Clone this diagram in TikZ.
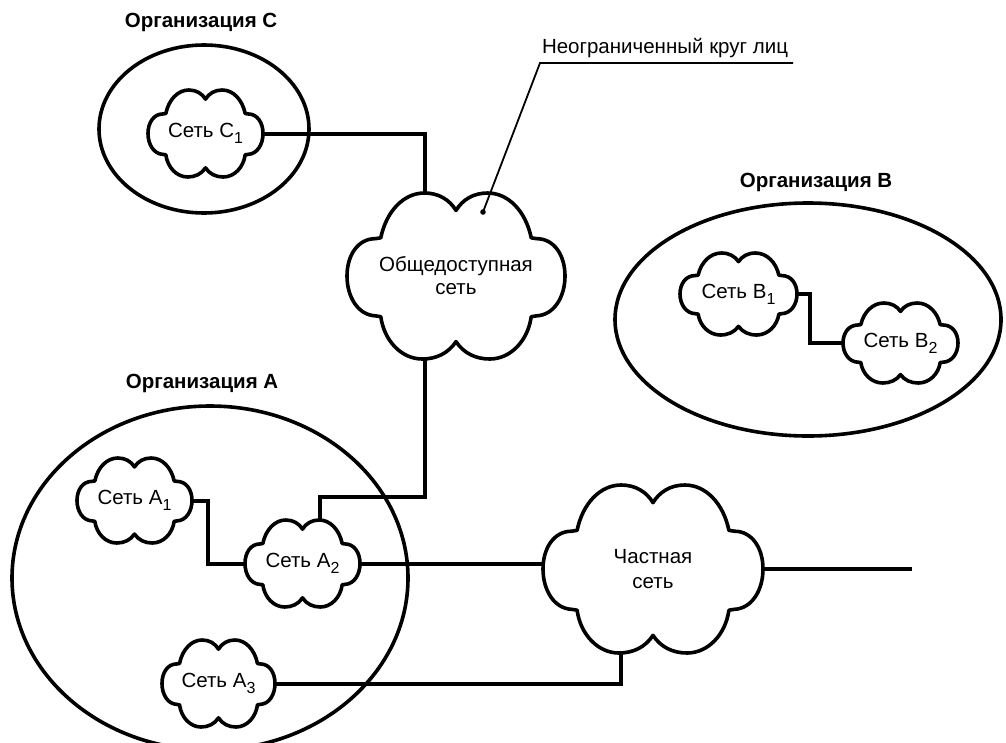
\documentclass[tikz,border=0pt]{standalone}
\usepackage{fontspec}
\setmainfont{Liberation Sans}
\usetikzlibrary{calc,shapes.geometric}
\newcommand\sbs[1]{\raisebox{-6pt}{\fontsize{16}{16}\selectfont #1}}
\newcommand\cloudoutline{%
  \draw[cloudline] (0,0.79) .. controls (0.07,0.93) and (0.18,1) .. (0.31,1)
   .. controls (0.50,1) and (0.66,0.78) .. (0.69,0.49)
   -- (0.74,0.48)
   .. controls (0.90,0.47) and (1,0.25) .. (1,0)
   .. controls (1,-0.25) and (0.90,-0.45) .. (0.74,-0.45)
   -- (0.69,-0.46)
   .. controls (0.64,-0.78) and (0.48,-1) .. (0.29,-1)
   .. controls (0.16,-1) and (0.06,-0.92) .. (0,-0.79)
   .. controls (-0.06,-0.92) and (-0.16,-1) .. (-0.29,-1)
   .. controls (-0.48,-1) and (-0.64,-0.78) .. (-0.69,-0.46)
   -- (-0.74,-0.45)
   .. controls (-0.90,-0.45) and (-1,-0.25) .. (-1,0)
   .. controls (-1,0.25) and (-0.90,0.47) .. (-0.74,0.48)
   -- (-0.69,0.49)
   .. controls (-0.66,0.78) and (-0.50,1) .. (-0.31,1)
   .. controls (-0.18,1) and (-0.07,0.93) .. (0,0.79) -- cycle;}
\newcommand\netcloud[6]{%
  \begin{scope}[shift={(#2,#3)},xscale=#4,yscale=#5]\cloudoutline\end{scope}
  \node[cloudtext,minimum width={2*#4pt},minimum height={2*#5pt}] (#1) at (#2,#3) {#6};}
\begin{document}
\begin{tikzpicture}[x=1pt,y=-1pt,
  cloudline/.style={line width=3.6pt,line join=round,fill=white},
  cloudtext/.style={rectangle,draw=none,inner sep=0pt,align=center,
    font=\fontsize{20.5}{24}\selectfont},
  orgellipse/.style={ellipse,draw,line width=3.6pt,inner sep=0pt},
  orglabel/.style={font=\fontsize{20.5}{24}\selectfont\bfseries,inner sep=0pt},
  conn/.style={line width=4pt,line cap=butt,line join=miter},
  leader/.style={line width=1.8pt}]
\useasboundingbox (0,0) rectangle (1006,742);
\clip (0,0) rectangle (1006,742);
\fill[white] (0,0) rectangle (1006,742);
% organisations
\node[orgellipse,minimum width=210pt,minimum height=168pt] (orgC) at (204,129) {};
\node[orgellipse,minimum width=386pt,minimum height=233pt] (orgB) at (808,319.5) {};
\node[orgellipse,minimum width=396pt,minimum height=344pt] (orgA) at (210,578) {};
\node[orglabel] (labC) at (201,22) {Организация С};
\node[orglabel] (labB) at (816,182) {Организация В};
\node[orglabel] (labA) at (202,383) {Организация А};
% clouds
\netcloud{c1}{205.5}{133.5}{57.5}{43.5}{Сеть С\sbs{1}}
\netcloud{pub}{456}{276}{109}{83}{Общедоступная\\[-1pt]сеть}
\netcloud{a1}{134.5}{500.5}{57.5}{42.5}{Сеть А\sbs{1}}
\netcloud{a2}{302.5}{563.5}{57.5}{43.5}{Сеть А\sbs{2}}
\netcloud{a3}{218.5}{683.5}{56.5}{43.5}{Сеть А\sbs{3}}
\netcloud{b1}{738.5}{294}{58.5}{41}{Сеть В\sbs{1}}
\netcloud{b2}{900.5}{343}{57.5}{40}{Сеть В\sbs{2}}
\netcloud{priv}{653}{569}{110}{84}{Частная\\[1pt]сеть}
% connectors
\draw[conn] (c1.east) -| ($(pub.north)!0.28!(pub.north west)$);
\draw[conn] ($(pub.south)!0.28!(pub.south west)$) |- ($($(a2.north)!0.31!(a2.north east)$)+(0,-23)$) -- ($(a2.north)!0.31!(a2.north east)$);
\draw[conn] (a1.east) -- ++(16,0) |- (a2.west);
\draw[conn] (a2.east) -- (a2.east -| priv.west);
\coordinate (pend) at (912,569);
\draw[conn] (priv.east) -- (pend);
\draw[conn] (a3.east) -| ($(priv.south)!0.29!(priv.south west)$);
\draw[conn] (b1.east) -- ++(13,0) |- (b2.west);
% unrestricted circle label
\node[font=\fontsize{20.5}{24}\selectfont,inner sep=0pt] (lbl) at (665,48) {Неограниченный круг лиц};
\coordinate (ul1) at (540,63);
\coordinate (ul2) at (793,63);
\coordinate (dot) at (483,212);
\draw[leader] (ul2) -- (ul1) -- (dot);
\fill (dot) circle (2.8pt);
\end{tikzpicture}
\end{document}
